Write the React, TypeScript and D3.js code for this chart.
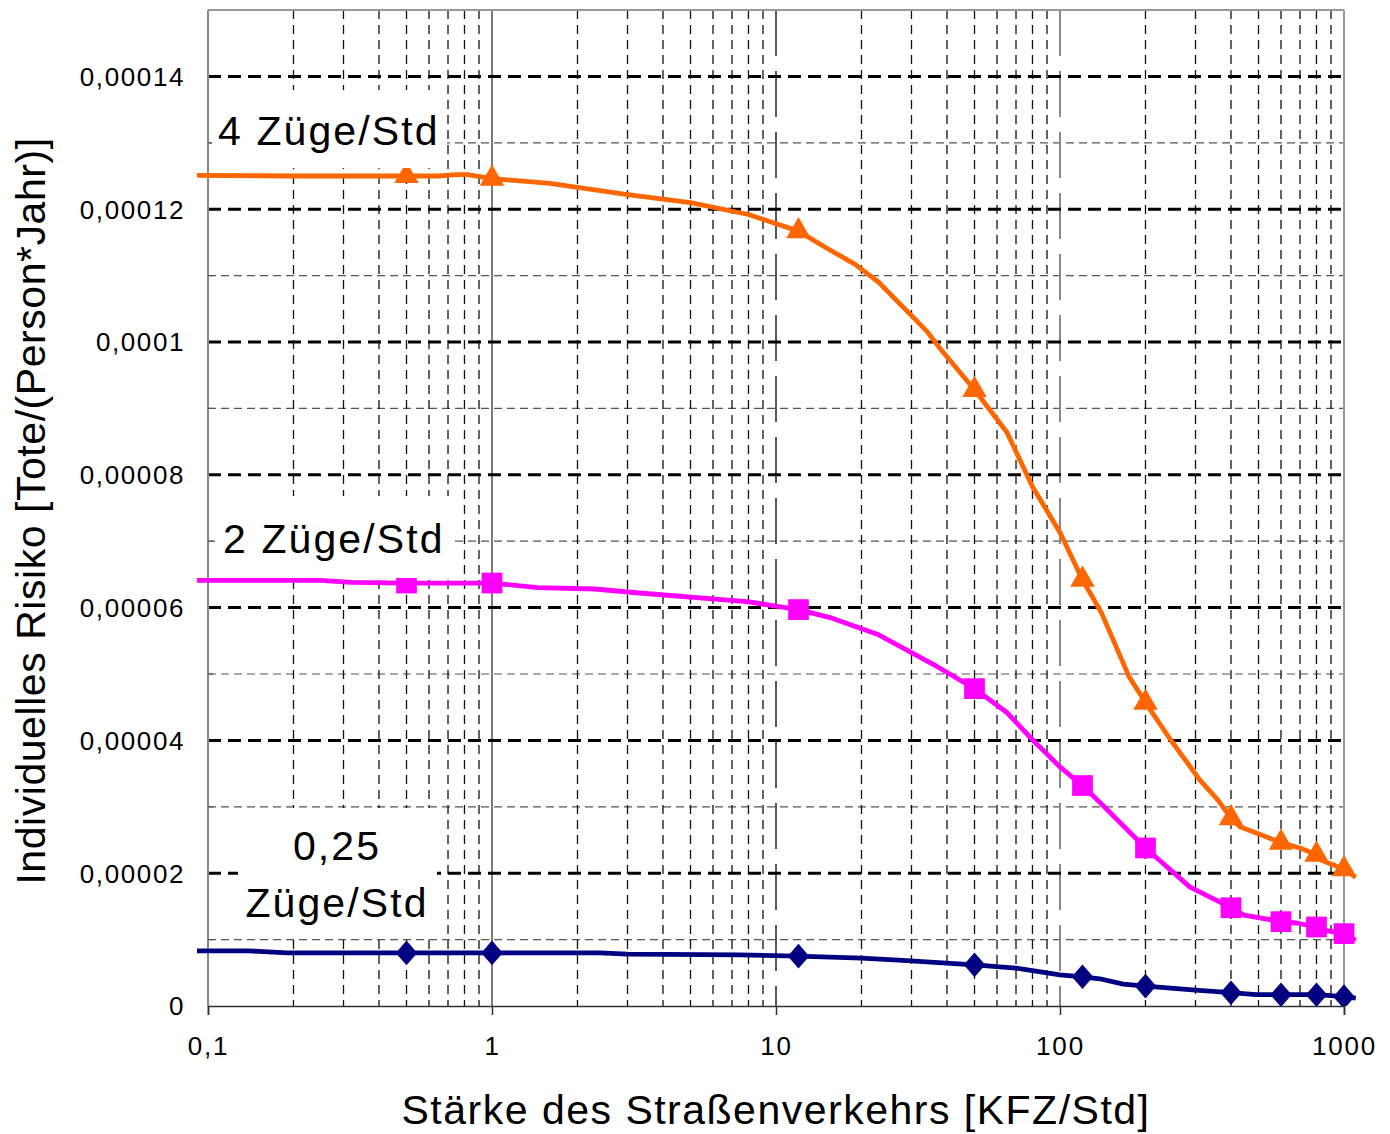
import * as d3 from "d3";
import { useEffect, useRef } from "react";

// axis ticks
const xTickValues = [0.1, 1, 10, 100, 1000];
const xTickLabels = ["0,1", "1", "10", "100", "1000"];
const yTickValues = [0, 0.00002, 0.00004, 0.00006, 0.00008, 0.0001, 0.00012, 0.00014];
const yTickLabels = ["0", "0,00002", "0,00004", "0,00006", "0,00008", "0,0001", "0,00012", "0,00014"];

// points with markers (same x for all three series)
const markerX = [0.5, 1, 12, 50, 120, 200, 400, 600, 800, 1000];
const markers4 = [12.5e-5, 12.46e-5, 11.67e-5, 9.28e-5, 6.42e-5, 4.57e-5, 2.83e-5, 2.46e-5, 2.28e-5, 2.06e-5];
const markers2 = [6.37e-5, 6.37e-5, 5.97e-5, 4.78e-5, 3.32e-5, 2.38e-5, 1.48e-5, 1.27e-5, 1.19e-5, 1.09e-5];
const markers025 = [0.8e-5, 0.8e-5, 0.75e-5, 0.62e-5, 0.44e-5, 0.3e-5, 0.2e-5, 0.17e-5, 0.17e-5, 0.14e-5];

// line traces
const line4X = [0.09, 0.2, 0.65, 0.75, 0.82, 1, 1.6, 3, 5, 8, 12, 15, 19, 23, 34, 38, 50, 65, 80, 100, 120, 140, 175, 200, 245, 310, 360, 400, 430, 510, 600, 700, 800, 830, 1000, 1100];
const line4Y = [12.51e-5, 12.5e-5, 12.5e-5, 12.52e-5, 12.52e-5, 12.46e-5, 12.39e-5, 12.22e-5, 12.1e-5, 11.92e-5, 11.67e-5, 11.42e-5, 11.17e-5, 10.9e-5, 10.16e-5, 9.89e-5, 9.28e-5, 8.64e-5, 7.82e-5, 7.13e-5, 6.42e-5, 5.92e-5, 4.96e-5, 4.57e-5, 4.01e-5, 3.41e-5, 3.1e-5, 2.83e-5, 2.7e-5, 2.58e-5, 2.46e-5, 2.38e-5, 2.28e-5, 2.2e-5, 2.06e-5, 1.94e-5];

const line2X = [0.09, 0.25, 0.32, 0.5, 1, 1.45, 2.3, 3.3, 7.9, 12, 15.5, 23, 37, 50, 65, 80, 100, 120, 138, 200, 287, 400, 445, 600, 680, 800, 830, 1000, 1100];
const line2Y = [6.41e-5, 6.41e-5, 6.38e-5, 6.37e-5, 6.37e-5, 6.3e-5, 6.28e-5, 6.22e-5, 6.09e-5, 5.97e-5, 5.85e-5, 5.59e-5, 5.11e-5, 4.78e-5, 4.42e-5, 4.01e-5, 3.6e-5, 3.32e-5, 3.07e-5, 2.38e-5, 1.79e-5, 1.48e-5, 1.37e-5, 1.27e-5, 1.25e-5, 1.19e-5, 1.15e-5, 1.09e-5, 0.99e-5];

const line025X = [0.09, 0.14, 0.19, 0.5, 1, 2.4, 3, 7.4, 12, 20, 27, 50, 70, 100, 120, 138, 167, 200, 300, 400, 490, 600, 800, 1000, 1100];
const line025Y = [0.83e-5, 0.83e-5, 0.8e-5, 0.8e-5, 0.8e-5, 0.8e-5, 0.78e-5, 0.77e-5, 0.75e-5, 0.72e-5, 0.69e-5, 0.62e-5, 0.57e-5, 0.47e-5, 0.44e-5, 0.41e-5, 0.33e-5, 0.3e-5, 0.24e-5, 0.2e-5, 0.17e-5, 0.17e-5, 0.17e-5, 0.14e-5, 0.12e-5];

const FONT = "'Liberation Sans', Arial, sans-serif";

export default function App() {
    const svgRef = useRef<SVGSVGElement>(null);

    useEffect(() => {
        const svg = d3.select(svgRef.current);
        svg.selectAll("*").remove();

        const width = 1390;
        const height = 1134;
        const margin = { top: 10, right: 46, bottom: 128, left: 208 };

        const x = d3.scaleLog()
            .domain([0.1, 1000])
            .range([margin.left, width - margin.right]);

        const y = d3.scaleLinear()
            .domain([0, 0.00015])
            .range([height - margin.bottom, margin.top]);

        const [x0, x1] = x.range();
        const [y0, y1] = y.range();

        svg.append("rect").attr("width", width).attr("height", height).attr("fill", "#fff");

        // horizontal grid: minor (odd 0.00001) thin grey, major black thick dashes
        const grid = svg.append("g");
        const yMinor = y.ticks(15).filter(v => v > 0 && Math.round(v / 0.00001) % 2 === 1 && v < 0.00015);
        grid.selectAll("line.ymin")
            .data(yMinor)
            .enter()
            .append("line")
            .attr("x1", x0).attr("x2", x1)
            .attr("y1", d => y(d)).attr("y2", d => y(d))
            .attr("stroke", "#555")
            .attr("stroke-width", 1.2)
            .attr("stroke-dasharray", "8,5");

        // vertical minor grid
        const xMinor = x.ticks().filter(v => Math.abs(Math.log10(v) - Math.round(Math.log10(v))) > 1e-6);
        grid.selectAll("line.xmin")
            .data(xMinor)
            .enter()
            .append("line")
            .attr("x1", d => x(d)).attr("x2", d => x(d))
            .attr("y1", y1).attr("y2", y0)
            .attr("stroke", "#111")
            .attr("stroke-width", 1.3)
            .attr("stroke-dasharray", "9,6");

        // decade lines
        const decadeStyle: Record<string, { c: string; w: number; dash: string | null }> = {
            "1": { c: "#333", w: 1.3, dash: null },
            "10": { c: "#222", w: 1.5, dash: "46,15" },
            "100": { c: "#888", w: 2, dash: "46,15" },
            "1000": { c: "#999", w: 2, dash: null },
        };
        grid.selectAll("line.dec")
            .data(xTickValues.slice(1))
            .enter()
            .append("line")
            .attr("x1", d => x(d)).attr("x2", d => x(d))
            .attr("y1", y1).attr("y2", y0)
            .attr("stroke", d => decadeStyle[String(d)].c)
            .attr("stroke-width", d => decadeStyle[String(d)].w)
            .attr("stroke-dasharray", d => decadeStyle[String(d)].dash);

        grid.selectAll("line.ymaj")
            .data(yTickValues.slice(1))
            .enter()
            .append("line")
            .attr("x1", x0).attr("x2", x1)
            .attr("y1", d => y(d)).attr("y2", d => y(d))
            .attr("stroke", "#000")
            .attr("stroke-width", 3)
            .attr("stroke-dasharray", "13,7");

        // frame: top border, left axis
        svg.append("line")
            .attr("x1", x0).attr("x2", x1)
            .attr("y1", y1).attr("y2", y1)
            .attr("stroke", "#999").attr("stroke-width", 2);
        svg.append("line")
            .attr("x1", x0).attr("x2", x0)
            .attr("y1", y1).attr("y2", y0)
            .attr("stroke", "#888").attr("stroke-width", 2);

        // small inner ticks on left axis
        svg.selectAll("line.ltick")
            .data(yMinor)
            .enter()
            .append("line")
            .attr("x1", x0).attr("x2", x0 + 5)
            .attr("y1", d => y(d)).attr("y2", d => y(d))
            .attr("stroke", "#555").attr("stroke-width", 1.2);

        // x axis
        const xAxis = svg.append("g")
            .attr("transform", `translate(0,${y0})`)
            .call(d3.axisBottom(x).tickValues(xTickValues).tickSize(9).tickFormat((d, i) => xTickLabels[i]));
        xAxis.select(".domain").attr("stroke", "#333").attr("stroke-width", 1.6);
        xAxis.selectAll(".tick line").attr("stroke", "#333").attr("stroke-width", 1.5);
        xAxis.selectAll(".tick text")
            .attr("y", 49)
            .attr("dy", 0)
            .attr("fill", "#000")
            .style("font-family", FONT)
            .style("font-size", "26px")
            .style("letter-spacing", "1.8px");

        // y tick labels
        svg.selectAll("text.ytick")
            .data(yTickValues)
            .enter()
            .append("text")
            .attr("x", 185)
            .attr("y", d => y(d))
            .attr("dy", "0.36em")
            .attr("text-anchor", "end")
            .attr("fill", "#000")
            .style("font-family", FONT)
            .style("font-size", "26px")
            .style("letter-spacing", "1.6px")
            .text((d, i) => yTickLabels[i]);

        // axis titles
        svg.append("text")
            .attr("x", (x0 + x1) / 2)
            .attr("y", 1124)
            .attr("text-anchor", "middle")
            .style("font-family", FONT)
            .style("font-size", "41px")
            .style("letter-spacing", "1.5px")
            .text("Stärke des Straßenverkehrs [KFZ/Std]");

        svg.append("text")
            .attr("transform", `translate(45,${(y0 + y1) / 2 + 3}) rotate(-90)`)
            .attr("text-anchor", "middle")
            .style("font-family", FONT)
            .style("font-size", "41px")
            .style("letter-spacing", "0.55px")
            .text("Individuelles Risiko [Tote/(Person*Jahr)]");

        // series
        const clipId = "plot-clip";
        svg.append("clipPath").attr("id", clipId)
            .append("rect")
            .attr("x", x0 - 11).attr("y", y1)
            .attr("width", x1 - x0 + 24).attr("height", y0 - y1);

        const line = d3.line<[number, number]>()
            .x(d => x(d[0]))
            .y(d => y(d[1]));

        const series = [
            { xs: line4X, ys: line4Y, mv: markers4, color: "#FF6600", symbol: "tri" },
            { xs: line2X, ys: line2Y, mv: markers2, color: "#FF00FF", symbol: "sq" },
            { xs: line025X, ys: line025Y, mv: markers025, color: "#000080", symbol: "dia" },
        ];

        const plot = svg.append("g").attr("clip-path", `url(#${clipId})`);

        series.forEach(s => {
            const pts = s.xs.map((v, i) => [v, s.ys[i]] as [number, number]);
            plot.append("path")
                .datum(pts)
                .attr("fill", "none")
                .attr("stroke", s.color)
                .attr("stroke-width", 4.8)
                .attr("stroke-linejoin", "round")
                .attr("d", line);
        });

        series.forEach(s => {
            const sym = s.symbol === "tri"
                ? d3.symbol().type(d3.symbolTriangle).size(260)
                : s.symbol === "sq"
                    ? d3.symbol().type(d3.symbolSquare).size(430)
                    : d3.symbol().type(d3.symbolSquare).size(230);
            plot.selectAll(null)
                .data(markerX.map((v, i) => [v, s.mv[i]]))
                .enter()
                .append("path")
                .attr("d", sym)
                .attr("fill", s.color)
                .attr("transform", d => s.symbol === "dia"
                    ? `translate(${x(d[0])},${y(d[1])}) scale(1,1.15) rotate(45)`
                    : `translate(${x(d[0])},${y(d[1])})`);
        });

        // label boxes
        const labels = [
            { box: [212, 90, 235, 78], lines: ["4 Züge/Std"], anchor: "start", tx: 218, ty: [145] },
            { box: [215, 496, 238, 82], lines: ["2 Züge/Std"], anchor: "start", tx: 223, ty: [553] },
            { box: [238, 808, 199, 130], lines: ["0,25", "Züge/Std"], anchor: "middle", tx: 337, ty: [860, 917] },
        ];
        labels.forEach(l => {
            svg.append("rect")
                .attr("x", l.box[0]).attr("y", l.box[1])
                .attr("width", l.box[2]).attr("height", l.box[3])
                .attr("fill", "#fff");
            l.lines.forEach((t, i) => {
                svg.append("text")
                    .attr("x", l.tx)
                    .attr("y", l.ty[i])
                    .attr("text-anchor", l.anchor)
                    .style("font-family", FONT)
                    .style("font-size", "41px")
                    .style("letter-spacing", "2.1px")
                    .text(t);
            });
        });
    }, []);

    return (
        <svg
            ref={svgRef}
            width={1390}
            height={1134}
            style={{ position: "absolute", left: 0, top: 0, display: "block" }}
        />
    );
}
